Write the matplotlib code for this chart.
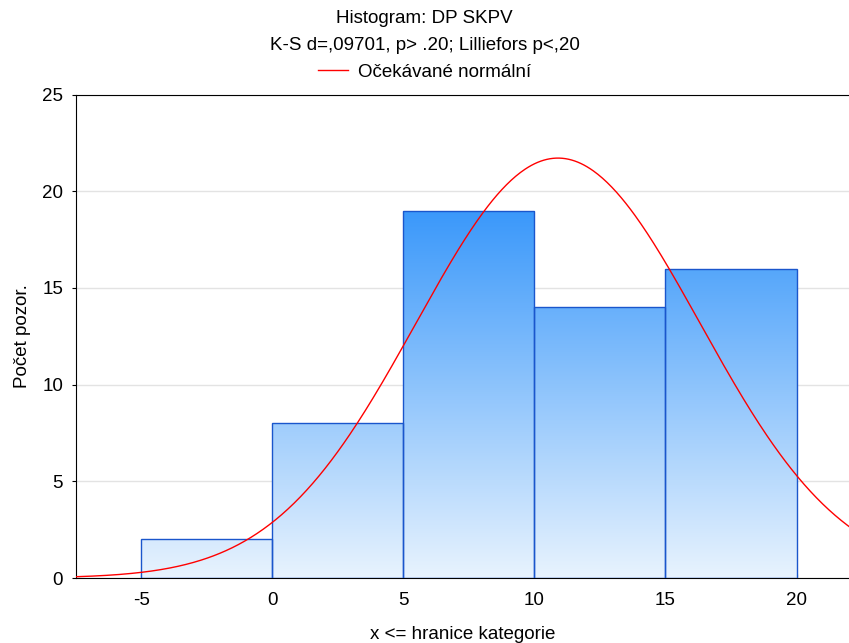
import numpy as np
import matplotlib.pyplot as plt
from matplotlib.colors import LinearSegmentedColormap
from matplotlib.lines import Line2D

plt.rcParams['font.family'] = ['Liberation Sans', 'DejaVu Sans']
plt.rcParams['axes.unicode_minus'] = False

# histogram data
bin_edges = [-5, 0, 5, 10, 15, 20]
counts = [2, 8, 19, 14, 16]
# expected normal (fitted)
mean_x = 10.9
sd_x = 5.42
n_obs = sum(counts)

fs = 13.5

fig = plt.figure(figsize=(8.49, 6.43), dpi=100)
ax = fig.add_axes([0.089, 0.101, 0.911, 0.752])

cmap = LinearSegmentedColormap.from_list('grad', ['#e8f3fe', '#3a98fa'])
grad = np.linspace(0, 1, 256).reshape(-1, 1)
ymax_bar = max(counts)

for i, c in enumerate(counts):
    x0, x1 = bin_edges[i], bin_edges[i + 1]
    im = ax.imshow(grad, cmap=cmap, origin='lower', aspect='auto',
                   extent=[x0, x1, 0, ymax_bar], zorder=2)
    rect = plt.Rectangle((x0, 0), x1 - x0, c, facecolor='none',
                         edgecolor='#1a56cc', linewidth=1.0, zorder=3)
    ax.add_patch(rect)
    im.set_clip_path(rect)

bw = bin_edges[1] - bin_edges[0]
xs = np.linspace(-7.5, 22, 500)
ys = n_obs * bw / (sd_x * np.sqrt(2 * np.pi)) * np.exp(-0.5 * ((xs - mean_x) / sd_x) ** 2)
ax.plot(xs, ys, color='red', linewidth=1.0, zorder=4)

ax.set_xlim(-7.5, 22)
ax.set_ylim(0, 25)
ax.set_xticks([-5, 0, 5, 10, 15, 20])
ax.set_yticks([0, 5, 10, 15, 20, 25])
ax.yaxis.grid(True, color='#e3e3e3', linewidth=1.0, zorder=0)
ax.set_axisbelow(True)
ax.tick_params(axis='x', direction='in', length=3, labelsize=fs, pad=10)
ax.tick_params(axis='y', direction='out', length=3, labelsize=fs, pad=6)
ax.spines['right'].set_visible(False)
ax.set_xlabel('x <= hranice kategorie', fontsize=fs, labelpad=12)
ax.set_ylabel('Počet pozor.', fontsize=fs, labelpad=8)

fig.text(0.5, 0.972, 'Histogram: DP SKPV', ha='center', va='center', fontsize=fs)
fig.text(0.5, 0.930, 'K-S d=,09701, p> .20; Lilliefors p<,20', ha='center', va='center', fontsize=fs)
handle = Line2D([], [], color='red', linewidth=1.0)
fig.legend([handle], ['Očekávané normální'], loc='center', bbox_to_anchor=(0.5, 0.888),
           frameon=False, fontsize=fs, handlelength=1.6, borderpad=0, handletextpad=0.5)

fig.savefig('out.png', dpi=100)
